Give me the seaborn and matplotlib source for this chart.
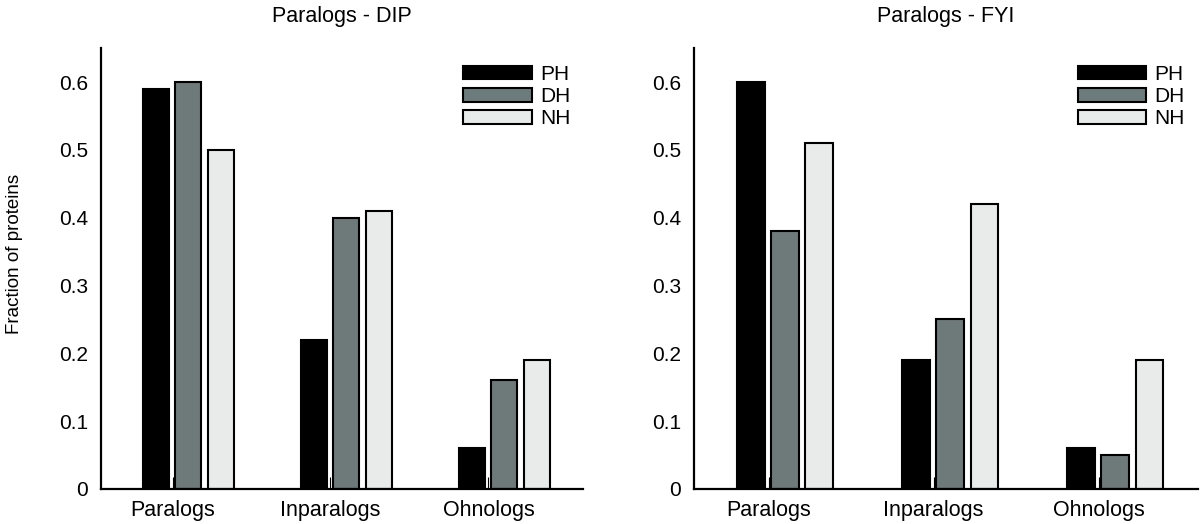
import pandas as pd
import seaborn as sns
import matplotlib.pyplot as plt
from matplotlib.patches import Patch

# dados
grupos = ['Paralogs', 'Inparalogs', 'Ohnologs']
tipos = ['PH', 'DH', 'NH']
dip_ph = [0.59, 0.22, 0.06]
dip_dh = [0.60, 0.40, 0.16]
dip_nh = [0.50, 0.41, 0.19]
fyi_ph = [0.60, 0.19, 0.06]
fyi_dh = [0.38, 0.25, 0.05]
fyi_nh = [0.51, 0.42, 0.19]
yticks = [0, 0.1, 0.2, 0.3, 0.4, 0.5, 0.6]
ytick_labels = ['0', '0.1', '0.2', '0.3', '0.4', '0.5', '0.6']

cores = {'PH': '#000000', 'DH': '#6c7b7b', 'NH': '#e7ebea'}


def monta_df(ph, dh, nh):
    linhas = []
    for tipo, vals in zip(tipos, [ph, dh, nh]):
        for g, v in zip(grupos, vals):
            linhas.append({'grupo': g, 'tipo': tipo, 'valor': v})
    return pd.DataFrame(linhas)


df_dip = monta_df(dip_ph, dip_dh, dip_nh)
df_fyi = monta_df(fyi_ph, fyi_dh, fyi_nh)

sns.set_style('white')
plt.rcParams['font.family'] = ['Liberation Sans', 'DejaVu Sans']
plt.rcParams['text.color'] = 'black'
plt.rcParams['xtick.labelcolor'] = 'black'
plt.rcParams['ytick.labelcolor'] = 'black'
plt.rcParams['axes.labelcolor'] = 'black'

fig = plt.figure(figsize=(12, 5.24), dpi=100)
ax1 = fig.add_axes([0.084, 0.067, 0.402, 0.841])
ax2 = fig.add_axes([0.578, 0.067, 0.420, 0.841])

for ax, df, titulo, leg_x in [(ax1, df_dip, 'Paralogs - DIP', 0.751),
                              (ax2, df_fyi, 'Paralogs - FYI', 0.762)]:
    sns.barplot(data=df, x='grupo', y='valor', hue='tipo', order=grupos,
                hue_order=tipos, palette=cores, width=0.62, gap=0.2,
                edgecolor='black', linewidth=1.5, legend=False, ax=ax)
    ax.set_xlim(-0.554, 2.5)
    ax.set_ylim(0, 0.65)
    ax.set_xticks([i - 0.1 for i in range(len(grupos))])
    ax.set_xticklabels(grupos, fontsize=15.5)
    ax.set_yticks(yticks)
    ax.set_yticklabels(ytick_labels, fontsize=15)
    ax.tick_params(axis='x', direction='in', length=9, width=0.8, pad=8,
                   color='black', bottom=True)
    ax.tick_params(axis='y', length=0, pad=9)
    ax.set_xlabel('')
    ax.set_ylabel('')
    ax.set_title(titulo, fontsize=15.5, pad=19)
    sns.despine(ax=ax)
    for s in ['left', 'bottom']:
        ax.spines[s].set_color('black')
        ax.spines[s].set_linewidth(1.6)
    handles = [Patch(facecolor=cores[t], edgecolor='black', linewidth=1.5) for t in tipos]
    ax.legend(handles, tipos, loc='upper left', bbox_to_anchor=(leg_x, 0.962),
              frameon=False, fontsize=15, handlelength=3.3, handleheight=0.63,
              handletextpad=0.4, labelspacing=0.15, borderpad=0, borderaxespad=0)

ax1.set_ylabel('Fraction of proteins', fontsize=13.5)
ax1.yaxis.set_label_coords(-0.162, 0.533)

fig.savefig('out.png', dpi=100)
